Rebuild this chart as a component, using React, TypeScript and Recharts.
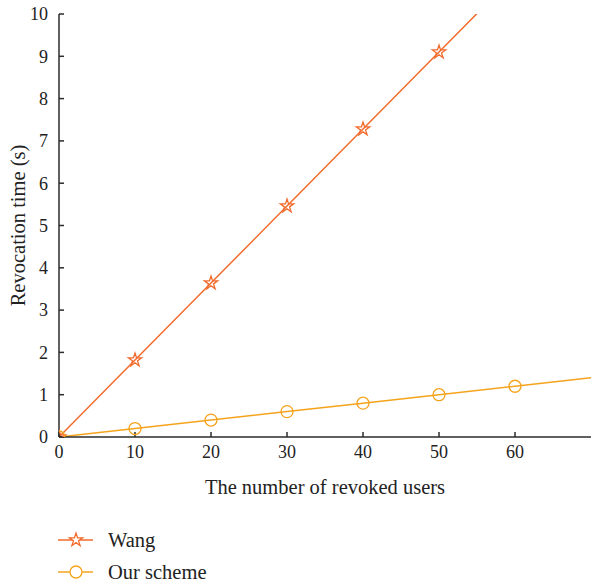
import { ComposedChart, Line, XAxis, YAxis, Legend, Symbols } from "recharts";

const users = [0, 10, 20, 30, 40, 50, 60, 70, 80];
const wang = [0, 1.82, 3.64, 5.46, 7.28, 9.1, 10.92, 12.74, 14.56];
const ours = [0, 0.2, 0.4, 0.6, 0.8, 1.0, 1.2, 1.4, 1.6];
const xTicks = [0, 10, 20, 30, 40, 50, 60];
const yTicks = [0, 1, 2, 3, 4, 5, 6, 7, 8, 9, 10];

const data = users.map((u, i) => ({ users: u, wang: wang[i], ours: ours[i] }));

const WANG = "#F26B2C";
const OURS = "#F5A31D";
const AXIS = "#2b2b2b";
const FONT = "Liberation Serif, Times New Roman, DejaVu Serif, serif";

const tickStyle = { fontSize: 18, fill: "#222", fontFamily: FONT };
const labelStyle = { fontSize: 20.5, fill: "#222", fontFamily: FONT };

// markers only where the original shows them
const makeDot = (type: "star" | "circle", color: string) => (props: any) => {
  const { cx, cy, payload, index } = props;
  if (payload.users > 60 || cx == null || cy == null) return <g key={index} />;
  if (type === "circle")
    return <circle key={index} cx={cx} cy={cy} r={6} fill="none" stroke={color} strokeWidth={1.3} />;
  return (
    <Symbols key={index} cx={cx} cy={cy} type="star" size={55} fill="none" stroke={color} strokeWidth={1.3} />
  );
};

function LegendBox() {
  const rows = [
    { name: "Wang", color: WANG, type: "star" },
    { name: "Our scheme", color: OURS, type: "circle" },
  ];
  return (
    <div style={{ position: "relative", width: 300, height: 74, fontFamily: FONT }}>
      {rows.map((r, i) => (
        <div key={r.name} style={{ position: "absolute", left: 56, top: 22 + i * 32, height: 22, display: "flex", alignItems: "center" }}>
          <svg width={40} height={22}>
            <line x1={2} y1={11} x2={37} y2={11} stroke={r.color} strokeWidth={1.5} />
            {r.type === "star" ? (
              <Symbols cx={20} cy={11} type="star" size={55} fill="#fff" stroke={r.color} strokeWidth={1.3} />
            ) : (
              <circle cx={20} cy={11} r={6} fill="#fff" stroke={r.color} strokeWidth={1.3} />
            )}
          </svg>
          <span style={{ marginLeft: 12, fontSize: 20.5, color: "#222" }}>{r.name}</span>
        </div>
      ))}
    </div>
  );
}

export default function App() {
  return (
    <div style={{ position: "absolute", left: 0, top: 0, background: "#fff", fontFamily: FONT }}>
      <ComposedChart width={592} height={581} data={data} margin={{ top: 14, right: 1, bottom: 0, left: 0 }}>
        <XAxis
          dataKey="users"
          type="number"
          domain={[0, 70]}
          ticks={xTicks}
          allowDataOverflow
          height={70}
          stroke={AXIS}
          strokeWidth={1.5}
          tickSize={-5}
          tickMargin={13}
          tick={tickStyle}
          label={{ value: "The number of revoked users", position: "center", dy: 15, style: labelStyle }}
        />
        <XAxis
          xAxisId="top"
          dataKey="users"
          type="number"
          orientation="top"
          domain={[0, 70]}
          ticks={xTicks}
          allowDataOverflow
          height={0}
          stroke={AXIS}
          strokeWidth={1.5}
          tickSize={-5}
          tick={() => <g />}
        />
        <YAxis
          type="number"
          domain={[0, 10]}
          ticks={yTicks}
          allowDataOverflow
          width={59}
          stroke={AXIS}
          strokeWidth={1.5}
          tickSize={-5}
          tickMargin={16}
          tick={tickStyle}
          label={{ value: "Revocation time (s)", angle: -90, position: "center", dx: -12, style: labelStyle }}
        />
        <YAxis
          yAxisId="right"
          type="number"
          orientation="right"
          domain={[0, 10]}
          ticks={yTicks}
          allowDataOverflow
          width={0}
          stroke={AXIS}
          strokeWidth={1.5}
          tickSize={-5}
          tick={() => <g />}
        />
        <Legend verticalAlign="bottom" align="left" height={74} content={() => <LegendBox />} />
        <Line
          dataKey="wang"
          name="Wang"
          stroke={WANG}
          strokeWidth={1.5}
          dot={makeDot("star", WANG)}
          isAnimationActive={false}
        />
        <Line
          dataKey="ours"
          name="Our scheme"
          stroke={OURS}
          strokeWidth={1.5}
          dot={makeDot("circle", OURS)}
          isAnimationActive={false}
        />
      </ComposedChart>
    </div>
  );
}
